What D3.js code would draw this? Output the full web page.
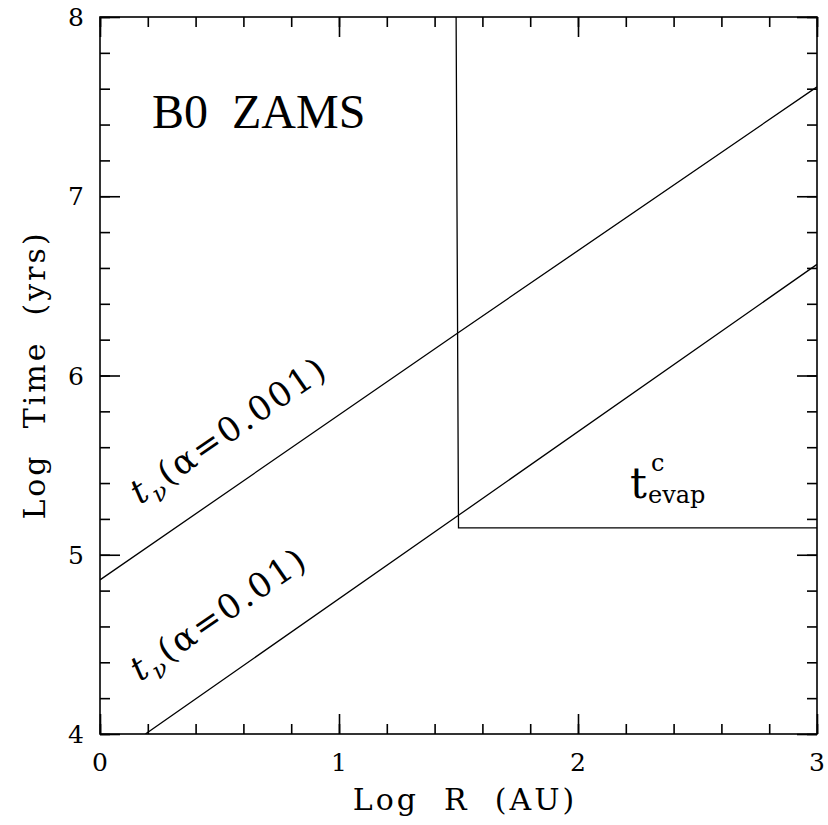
<!DOCTYPE html>
<html><head><meta charset="utf-8">
<script src="https://cdn.jsdelivr.net/npm/d3@7"></script>
<style>body{margin:0;background:#fff}svg{display:block}text{font-family:"DejaVu Serif","Liberation Serif",serif;fill:#000}</style>
</head><body><svg id="c" width="828" height="825"></svg>
<script>
const xDomain=[0,3], yDomain=[4,8];
const xMajor=[0,1,2,3], yMajor=[4,5,6,7,8];
const xMinor=d3.range(0,3.001,0.2), yMinor=d3.range(4,8.001,0.2);
const visc001=[[0,4.86],[1.5,6.24],[3,7.61]];
const visc01=[[0.19,4.0],[1.5,5.22],[3,6.62]];
const evap=[[1.49,8],[1.5,5.15],[3,5.15]];

const L=100,R=817,T=17,B=734;
const svg=d3.select("#c");
const x=d3.scaleLinear().domain(xDomain).range([L,R]);
const y=d3.scaleLinear().domain(yDomain).range([B,T]);

const line=d3.line().x(d=>x(d[0])).y(d=>y(d[1]));
const g=svg.append("g");
g.append("defs").append("clipPath").attr("id","clp").append("rect").attr("x",L).attr("y",T).attr("width",R-L).attr("height",B-T);
[visc001,visc01,evap].forEach(s=>g.append("path").attr("d",line(s)).attr("fill","none").attr("stroke","#000").attr("stroke-width",1.3).attr("clip-path","url(#clp)"));

function ax(gen,tx,ty,vals,size){
  const a=svg.append("g").attr("transform",`translate(${tx},${ty})`).call(gen.tickValues(vals).tickSize(size).tickFormat(""));
  a.select(".domain").remove();
  a.selectAll(".tick line").attr("stroke","#000").attr("stroke-width",1.6);
  return a;
}
ax(d3.axisBottom(x),0,B,xMinor,-10);ax(d3.axisBottom(x),0,B,xMajor,-20);
ax(d3.axisTop(x),0,T,xMinor,-10);ax(d3.axisTop(x),0,T,xMajor,-20);
ax(d3.axisLeft(y),L,0,yMinor,-10);ax(d3.axisLeft(y),L,0,yMajor,-20);
ax(d3.axisRight(y),R,0,yMinor,-10);ax(d3.axisRight(y),R,0,yMajor,-20);
svg.append("rect").attr("x",L).attr("y",T).attr("width",R-L).attr("height",B-T).attr("fill","none").attr("stroke","#000").attr("stroke-width",1.6);

xMajor.forEach(v=>svg.append("text").attr("x",x(v)).attr("y",B+37).attr("text-anchor","middle").attr("font-size",25).text(v));
yMajor.forEach(v=>svg.append("text").attr("x",L-16).attr("y",y(v)+9).attr("text-anchor","end").attr("font-size",25).text(v));

svg.append("text").attr("x",465).attr("y",810).attr("text-anchor","middle").attr("font-size",30).attr("letter-spacing",3).attr("xml:space","preserve").text("Log  R  (AU)");
svg.append("text").attr("transform","translate(45,375) rotate(-90)").attr("text-anchor","middle").attr("font-size",30).attr("letter-spacing",3).attr("xml:space","preserve").text("Log  Time  (yrs)");
svg.append("text").attr("x",152).attr("y",128).style("font-family","'Liberation Serif',serif").attr("font-size",48).attr("xml:space","preserve").text("B0  ZAMS");

const ang=-Math.atan((y(visc001[0][1])-y(visc001[2][1]))/(x(3)-x(0)))*180/Math.PI;
function vlabel(px,py,a){
  const t=svg.append("text").attr("transform",`translate(${px},${py}) rotate(${ang})`).attr("font-size",34).attr("letter-spacing",2.5);
  t.append("tspan").attr("font-style","italic").text("t");
  t.append("tspan").attr("font-size",24).attr("dy",9).attr("font-style","italic").text("ν");
  t.append("tspan").attr("dy",-9).text("(α=" + a + ")");
}
vlabel(140,505,"0.001");
vlabel(140,682,"0.01");

svg.append("text").attr("x",630).attr("y",498).attr("font-size",42).text("t");
svg.append("text").attr("x",651).attr("y",471).attr("font-size",24).text("c");
svg.append("text").attr("x",648).attr("y",503).attr("font-size",24).text("evap");
</script></body></html>
